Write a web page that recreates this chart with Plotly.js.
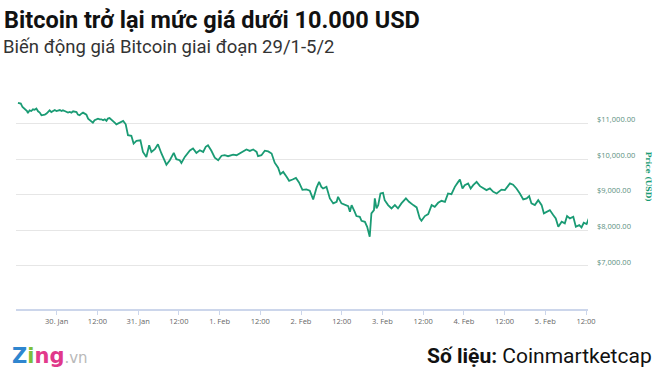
<!DOCTYPE html>
<html>
<head>
<meta charset="utf-8">
<script src="https://cdn.plot.ly/plotly-3.0.1.min.js"></script>
<style>html,body{margin:0;padding:0;background:#fff;}#chart{width:660px;height:382px;}</style>
</head>
<body>
<div id="chart"></div>
<script>
// Bitcoin price, 29 Jan - 5 Feb
const times = [
"2018-01-29 12:35","2018-01-29 13:25","2018-01-29 13:55","2018-01-29 14:35","2018-01-29 15:15","2018-01-29 15:30",
"2018-01-29 16:00","2018-01-29 16:30","2018-01-29 17:00","2018-01-29 17:30","2018-01-29 18:00","2018-01-29 18:30",
"2018-01-29 19:00","2018-01-29 19:30","2018-01-29 20:00","2018-01-29 20:30","2018-01-29 21:00","2018-01-29 21:25",
"2018-01-29 21:55","2018-01-29 22:25","2018-01-29 22:55","2018-01-29 23:25","2018-01-29 23:55","2018-01-30 00:25",
"2018-01-30 00:55","2018-01-30 01:25","2018-01-30 01:50","2018-01-30 02:20","2018-01-30 02:50","2018-01-30 03:20",
"2018-01-30 03:50","2018-01-30 04:20","2018-01-30 04:50","2018-01-30 05:20","2018-01-30 05:50","2018-01-30 06:15",
"2018-01-30 06:45","2018-01-30 07:15","2018-01-30 07:45","2018-01-30 08:15","2018-01-30 08:45","2018-01-30 09:15",
"2018-01-30 09:45","2018-01-30 10:15","2018-01-30 10:40","2018-01-30 11:10","2018-01-30 11:40","2018-01-30 12:10",
"2018-01-30 12:40","2018-01-30 13:10","2018-01-30 13:40","2018-01-30 14:10","2018-01-30 14:40","2018-01-30 15:05",
"2018-01-30 15:35","2018-01-30 16:05","2018-01-30 16:35","2018-01-30 17:05","2018-01-30 17:35","2018-01-30 18:05",
"2018-01-30 18:35","2018-01-30 19:35","2018-01-30 20:20","2018-01-30 21:00","2018-01-30 22:00","2018-01-30 22:40",
"2018-01-30 23:30","2018-01-31 00:40","2018-01-31 01:25","2018-01-31 02:25","2018-01-31 03:15","2018-01-31 03:55",
"2018-01-31 04:55","2018-01-31 05:50","2018-01-31 06:50","2018-01-31 07:20","2018-01-31 08:20","2018-01-31 09:20",
"2018-01-31 10:30","2018-01-31 11:15","2018-01-31 12:15","2018-01-31 12:45","2018-01-31 13:45","2018-01-31 15:15",
"2018-01-31 16:10","2018-01-31 17:10","2018-01-31 18:10","2018-01-31 19:10","2018-01-31 19:55","2018-01-31 20:35",
"2018-01-31 21:35","2018-01-31 22:35","2018-01-31 23:35","2018-02-01 00:35","2018-02-01 01:30","2018-02-01 02:30",
"2018-02-01 04:00","2018-02-01 05:00","2018-02-01 06:10","2018-02-01 06:55","2018-02-01 07:55","2018-02-01 08:55",
"2018-02-01 09:55","2018-02-01 10:55","2018-02-01 11:20","2018-02-01 12:20","2018-02-01 13:20","2018-02-01 14:20",
"2018-02-01 15:20","2018-02-01 16:15","2018-02-01 17:15","2018-02-01 17:55","2018-02-01 18:45","2018-02-01 19:45",
"2018-02-01 20:30","2018-02-01 21:30","2018-02-01 22:30","2018-02-01 23:25","2018-02-02 00:25","2018-02-02 01:35",
"2018-02-02 02:35","2018-02-02 03:35","2018-02-02 04:35","2018-02-02 05:20","2018-02-02 06:00","2018-02-02 06:30",
"2018-02-02 07:30","2018-02-02 08:30","2018-02-02 09:30","2018-02-02 10:30","2018-02-02 10:55","2018-02-02 11:55",
"2018-02-02 12:55","2018-02-02 13:55","2018-02-02 14:25","2018-02-02 14:55","2018-02-02 15:50","2018-02-02 16:20",
"2018-02-02 17:20","2018-02-02 17:50","2018-02-02 18:50","2018-02-02 19:30","2018-02-02 20:15","2018-02-02 20:45",
"2018-02-02 21:30","2018-02-02 21:45","2018-02-02 22:15","2018-02-02 22:45","2018-02-02 23:25","2018-02-03 00:10",
"2018-02-03 00:40","2018-02-03 01:40","2018-02-03 02:40","2018-02-03 03:40","2018-02-03 04:35","2018-02-03 05:35",
"2018-02-03 06:55","2018-02-03 07:50","2018-02-03 09:05","2018-02-03 10:05","2018-02-03 11:00","2018-02-03 11:30",
"2018-02-03 12:30","2018-02-03 13:30","2018-02-03 14:30","2018-02-03 15:25","2018-02-03 16:25","2018-02-03 17:25",
"2018-02-03 18:25","2018-02-03 19:20","2018-02-03 20:20","2018-02-03 21:20","2018-02-03 22:20","2018-02-03 22:50",
"2018-02-03 23:35","2018-02-04 00:15","2018-02-04 01:15","2018-02-04 02:00","2018-02-04 02:45","2018-02-04 03:45",
"2018-02-04 04:45","2018-02-04 05:40","2018-02-04 06:40","2018-02-04 07:40","2018-02-04 08:40","2018-02-04 09:40",
"2018-02-04 11:05","2018-02-04 12:05","2018-02-04 13:35","2018-02-04 14:30","2018-02-04 15:30","2018-02-04 16:30",
"2018-02-04 17:30","2018-02-04 18:30","2018-02-04 19:15","2018-02-04 19:55","2018-02-04 20:55","2018-02-04 21:55",
"2018-02-04 22:55","2018-02-04 23:35","2018-02-05 00:25","2018-02-05 01:20","2018-02-05 02:20","2018-02-05 03:05",
"2018-02-05 03:50","2018-02-05 04:50","2018-02-05 05:45","2018-02-05 06:25","2018-02-05 07:15","2018-02-05 08:15",
"2018-02-05 09:00","2018-02-05 10:00","2018-02-05 10:40","2018-02-05 11:20","2018-02-05 12:10","2018-02-05 12:55"
];
const prices = [
11583,11561,11465,11401,11353,11294,
11373,11353,11401,11387,11421,11345,
11308,11233,11233,11252,11280,11325,
11373,11325,11353,11381,11353,11373,
11381,11353,11373,11353,11325,11308,
11325,11308,11345,11325,11325,11252,
11233,11280,11308,11280,11252,11140,
11093,11064,11028,11093,11121,11140,
11121,11121,11093,11121,11079,11140,
11157,11121,11064,11028,10980,11000,
11017,11073,10980,10672,10658,10439,
10512,10532,10204,10063,10392,10204,
10279,10420,10167,10063,9845,9971,
10176,9999,9971,9895,10063,10243,
10299,10176,10251,10204,10349,10392,
10237,10041,9971,10097,10111,10083,
10125,10111,10176,10232,10271,10232,
10271,10204,10083,10111,10237,10218,
10159,9901,9761,9578,9643,9503,
9391,9430,9472,9348,9138,9149,
9116,8869,9200,9362,9222,9177,
9222,8897,8757,8802,8942,8757,
8709,8681,8521,8709,8521,8401,
8381,8269,8241,8101,7820,8476,
8569,8897,8617,8709,9037,9054,
8849,8709,8617,8709,8617,8757,
8897,8802,8709,8645,8336,8269,
8401,8457,8709,8661,8774,8830,
8802,9037,9018,9222,9362,9430,
9177,9270,9318,9177,9270,9362,
9242,9177,9130,9177,9082,9037,
9144,9130,9318,9284,9177,9037,
8869,8897,8962,8757,8709,8849,
8709,8476,8521,8569,8429,8336,
8101,8241,8196,8401,8336,8381,
8101,8148,8084,8213,8176,8359
];
const xTickVals = ["2018-01-30 00:00","2018-01-30 12:00","2018-01-31 00:00","2018-01-31 12:00",
  "2018-02-01 00:00","2018-02-01 12:00","2018-02-02 00:00","2018-02-02 12:00",
  "2018-02-03 00:00","2018-02-03 12:00","2018-02-04 00:00","2018-02-04 12:00",
  "2018-02-05 00:00","2018-02-05 12:00"];
const xTickText = ["30. Jan","12:00","31. Jan","12:00","1. Feb","12:00","2. Feb","12:00",
  "3. Feb","12:00","4. Feb","12:00","5. Feb","12:00"];
const yTickVals = [7000,8000,9000,10000,11000,12000];
const yTickText = ["$7,000.00","$8,000.00","$9,000.00","$10,000.00","$11,000.00",""];

const lineColor = '#1a9b74';
const trace = {
  x: times, y: prices, type: 'scatter', mode: 'lines',
  line: {color: lineColor, width: 1.8, shape: 'linear'},
  hoverinfo: 'x+y'
};
const layout = {
  width: 660, height: 382,
  margin: {l: 16, r: 72, t: 88, b: 72.5},
  paper_bgcolor: '#ffffff', plot_bgcolor: '#ffffff',
  showlegend: false,
  title: {
    text: '<b>Bitcoin trở lại mức giá dưới 10.000 USD</b>',
    font: {family: 'Liberation Sans Narrow, Roboto, Noto Sans, sans-serif', size: 23.5, color: '#111111'},
    x: 4/660, xanchor: 'left', xref: 'container',
    y: 1 - 20/382, yanchor: 'middle', yref: 'container'
  },
  xaxis: {
    type: 'date',
    range: ['2018-01-29 12:00', '2018-02-05 12:35'],
    tickmode: 'array', tickvals: xTickVals, ticktext: xTickText,
    showgrid: false, zeroline: false,
    showline: true, linecolor: '#ccd6eb', linewidth: 2,
    ticks: 'outside', ticklen: 4, tickcolor: '#ccd6eb', tickwidth: 1,
    tickfont: {family: 'Open Sans, DejaVu Sans, sans-serif', size: 7.5, color: '#666666'},
    fixedrange: true
  },
  yaxis: {
    side: 'right',
    range: [5790, 12000],
    tickmode: 'array', tickvals: yTickVals, ticktext: yTickText,
    showgrid: true, gridcolor: '#e6e6e6', gridwidth: 1,
    zeroline: false, showline: false, ticks: '',
    ticklabelstandoff: 8, ticklabelshift: -4,
    tickfont: {family: 'Open Sans, DejaVu Sans, sans-serif', size: 7.5, color: '#5a8f80'},
    fixedrange: true
  },
  annotations: [
    {text: 'Biến động giá Bitcoin giai đoạn 29/1-5/2', xref: 'paper', yref: 'paper',
     x: (1-16)/572, y: (309.5-47)/221.5, xanchor: 'left', yanchor: 'middle', showarrow: false,
     font: {family: 'Liberation Sans Narrow, Roboto, Noto Sans, sans-serif', size: 18.5, color: '#333333'}},
    {text: '<b>Price (USD)</b>', xref: 'paper', yref: 'paper', textangle: 90,
     x: (648-16)/572, y: (309.5-177)/221.5, xanchor: 'center', yanchor: 'middle', showarrow: false,
     font: {family: 'DejaVu Serif, serif', size: 7.5, color: lineColor}},
    {text: '<b><span style="color:#2f86cf">Z</span><span style="color:#7bbf3a">i</span><span style="color:#e23a8c">n</span><span style="color:#e0388a">g</span></b><span style="color:#b9b9b9;font-size:15px">.vn</span>',
     xref: 'paper', yref: 'paper', x: (10-16)/572, y: (309.5-357)/221.5,
     xanchor: 'left', yanchor: 'middle', showarrow: false,
     font: {family: 'DejaVu Sans, sans-serif', size: 21, color: '#2f86cf'}},
    {text: '<b>Số liệu:</b> Coinmartketcap', xref: 'paper', yref: 'paper',
     x: (654-16)/572, y: (309.5-357)/221.5, xanchor: 'right', yanchor: 'middle', showarrow: false,
     font: {family: 'Liberation Sans Narrow, Roboto, Noto Sans, sans-serif', size: 21, color: '#111111'}}
  ]
};
Plotly.newPlot('chart', [trace], layout, {displayModeBar: false, staticPlot: true});
</script>
</body>
</html>
